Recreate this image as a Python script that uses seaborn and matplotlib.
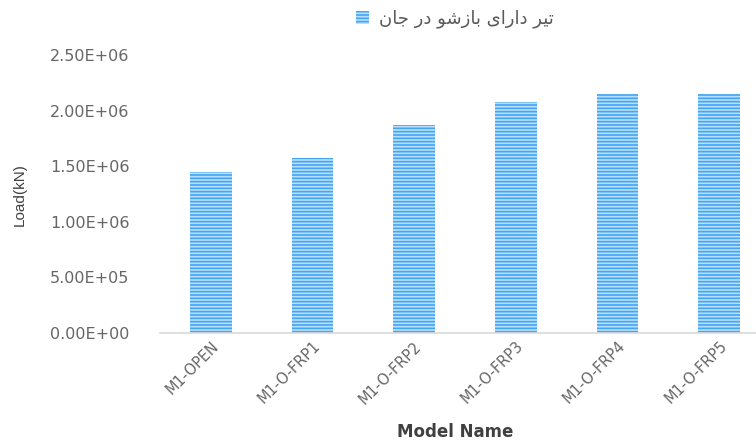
import matplotlib
matplotlib.use("Agg")
import matplotlib.pyplot as plt
import seaborn as sns
import pandas as pd

categories = ["M1-OPEN", "M1-O-FRP1", "M1-O-FRP2", "M1-O-FRP3", "M1-O-FRP4", "M1-O-FRP5"]
loads = [1.448e6, 1.574e6, 1.870e6, 2.075e6, 2.150e6, 2.150e6]
y_ticks = [0, 0.5e6, 1.0e6, 1.5e6, 2.0e6, 2.5e6]
y_tick_labels = ["0.00E+00", "5.00E+05", "1.00E+06", "1.50E+06", "2.00E+06", "2.50E+06"]
# Persian legend label "تیر دارای بازشو در جان", written in shaped visual order
legend_label = "\uFEE5\uFE8E\uFE9F \uFEAD\uFEA9 \uFEEE\uFEB7\uFEAF\uFE8E\uFE91 \uFBFC\uFE8D\uFEAD\uFE8D\uFEA9 \uFEAE\uFEF4\uFE97"
x_title = "Model Name"
y_title = "Load(kN)"

sns.set_theme(style="white")
plt.rcParams["font.family"] = ["DejaVu Sans"]
plt.rcParams["hatch.linewidth"] = 1.2

df = pd.DataFrame({"Model": categories, "Load": loads})

fig = plt.figure(figsize=(7.56, 4.46), dpi=100)
ax = fig.add_axes([160 / 756, 113 / 446, 610 / 756, 278 / 446])

sns.barplot(data=df, x="Model", y="Load", ax=ax, color="#b8e0fd",
            width=0.41, label=legend_label, saturation=1)
for p in ax.patches:
    p.set_hatch("-----")
    p.set_edgecolor("#45a5f5")
    p.set_linewidth(0)

ax.set_ylim(0, 2.5e6)
ax.set_xlim(-0.5, 5.5)
ax.set_yticks(y_ticks)
ax.set_yticklabels(y_tick_labels, color="#666666", fontsize=11.5)
ax.tick_params(axis="y", length=0, pad=22)
ax.tick_params(axis="x", length=0, pad=4)
ax.set_xticks(range(len(categories)))
ax.set_xticklabels(categories, rotation=45, ha="right", rotation_mode="anchor",
                   color="#666666", fontsize=10.5)

for s in ["top", "right", "left"]:
    ax.spines[s].set_visible(False)
ax.spines["bottom"].set_color("#d9d9d9")
ax.spines["bottom"].set_linewidth(1.2)
ax.grid(False)

ax.set_xlabel("")
ax.set_ylabel("")
fig.text(455 / 756, 1 - 432 / 446, x_title, ha="center", va="center",
         fontsize=12, fontweight="bold", color="#404040")
fig.text(20 / 756, 1 - 195 / 446, y_title, ha="center", va="center",
         rotation=90, fontsize=11, color="#404040", family="Liberation Sans")

leg = ax.legend(loc="center", bbox_to_anchor=(455 / 756, 1 - 19 / 446),
                bbox_transform=fig.transFigure, frameon=False, fontsize=13,
                handlelength=0.7, handleheight=0.7, handletextpad=0.6)
for t in leg.get_texts():
    t.set_color("#595959")

fig.savefig("out.png", dpi=100)
